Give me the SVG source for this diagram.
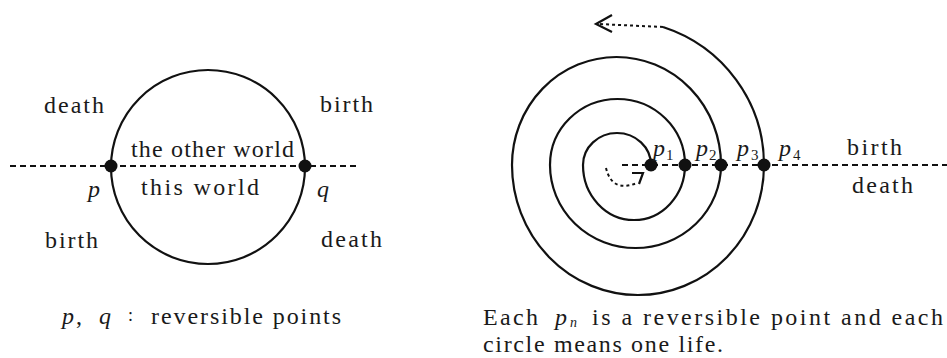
<svg xmlns="http://www.w3.org/2000/svg" width="947" height="358" viewBox="0 0 947 358">
<style>
  .t { font-family: "Liberation Serif", "Times New Roman", serif; font-size: 24px; fill: #1a1a1a; }
  .i { font-family: "Liberation Serif", "Times New Roman", serif; font-style: italic; font-size: 24px; fill: #1a1a1a; }
  .s { font-family: "Liberation Serif", "Times New Roman", serif; font-style: normal; font-size: 15px; fill: #1a1a1a; }
  .si { font-family: "Liberation Serif", "Times New Roman", serif; font-style: italic; font-size: 14px; fill: #1a1a1a; }
  .line { fill: none; stroke: #111; stroke-width: 2.2; }
  .dash { fill: none; stroke: #111; stroke-width: 2.2; stroke-dasharray: 6 4; }
  .dot { fill: none; stroke: #111; stroke-width: 2; stroke-dasharray: 3 3; }
  .pt { fill: #111; }
</style>
<rect width="947" height="358" fill="#fff"/>

<!-- Left diagram -->
<g id="left-axis"><line class="dash" x1="10" y1="166" x2="358" y2="166"/></g>
<g id="left-circle"><circle class="line" cx="208" cy="167" r="97"/></g>
<g id="point-p"><circle class="pt" cx="111" cy="166" r="6.5"/><text class="i" x="88" y="197">p</text></g>
<g id="point-q"><circle class="pt" cx="305" cy="166" r="6.5"/><text class="i" x="317" y="197">q</text></g>
<g id="left-labels">
  <text class="t" x="44" y="113" textLength="60" lengthAdjust="spacing">death</text>
  <text class="t" x="45" y="248" textLength="53" lengthAdjust="spacing">birth</text>
  <text class="t" x="320" y="112" textLength="53" lengthAdjust="spacing">birth</text>
  <text class="t" x="321" y="247" textLength="61" lengthAdjust="spacing">death</text>
  <text class="t" x="131" y="157" textLength="163" lengthAdjust="spacing">the other world</text>
  <text class="t" x="141" y="195" textLength="118" lengthAdjust="spacing">this world</text>
</g>
<g id="left-caption">
  <text class="i" x="62" y="324">p</text>
  <text class="t" x="76" y="324">,</text>
  <text class="i" x="99" y="324">q</text>
  <text class="t" x="128" y="321" style="font-size:18px">:</text>
  <text class="t" x="151" y="324" textLength="190" lengthAdjust="spacing">reversible points</text>
</g>

<!-- Right diagram -->
<g id="connectors">
  <line class="dash" x1="622" y1="165" x2="947" y2="165"/>
  <path id="spiral" class="line" d="M651,165 A34,32 0 0 0 583,165 A51,55 0 0 0 685,165 A67.5,66 0 0 0 550,165 A85.5,83 0 0 0 721,165 A104.5,108 0 0 0 512,165 A126,130 0 0 0 764,165 A147,145 0 0 0 663,27"/>
  <path class="dot" d="M663,27 L598,24"/>
  <path class="line" d="M612,15 L596,24 L612,32"/>
  <path class="dot" d="M606,168 Q612,193 637,183"/>
  <path class="line" stroke-width="1.8" d="M632,173 L643,173 L639,184"/>
</g>
<g id="p1"><circle class="pt" cx="651" cy="165" r="6.5"/><text class="i" x="653" y="156">p<tspan class="s" dy="4" dx="1">1</tspan></text></g>
<g id="p2"><circle class="pt" cx="685" cy="165" r="6.5"/><text class="i" x="696" y="156">p<tspan class="s" dy="4" dx="1">2</tspan></text></g>
<g id="p3"><circle class="pt" cx="721" cy="165" r="6.5"/><text class="i" x="737" y="156">p<tspan class="s" dy="4" dx="2">3</tspan></text></g>
<g id="p4"><circle class="pt" cx="764" cy="165" r="6.5"/><text class="i" x="779" y="156">p<tspan class="s" dy="4" dx="2">4</tspan></text></g>
<g id="right-labels">
  <text class="t" x="847" y="155" textLength="55" lengthAdjust="spacing">birth</text>
  <text class="t" x="852" y="193" textLength="61" lengthAdjust="spacing">death</text>
</g>
<g id="right-caption">
  <text class="t" x="483" y="325" textLength="55" lengthAdjust="spacing">Each</text>
  <text class="i" x="555" y="325">p<tspan class="si" dy="2" dx="3">n</tspan></text>
  <text class="t" x="592" y="325" textLength="351" lengthAdjust="spacing">is a reversible point and each</text>
  <text class="t" x="483" y="352" textLength="240" lengthAdjust="spacing">circle means one life.</text>
</g>
</svg>
